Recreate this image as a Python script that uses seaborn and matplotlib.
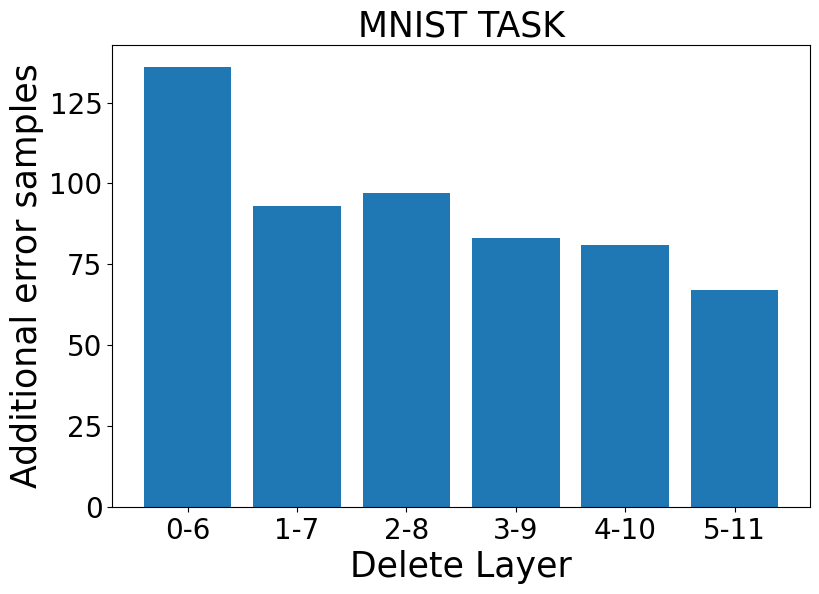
import matplotlib
matplotlib.use('Agg')
import matplotlib.pyplot as plt
import seaborn as sns
import pandas as pd

layers = ['0-6', '1-7', '2-8', '3-9', '4-10', '5-11']
errors = [136, 93, 97, 83, 81, 67]

data = pd.DataFrame({'layer': layers, 'errors': errors})

fig, ax = plt.subplots(figsize=(8.19, 5.94), dpi=100)
sns.barplot(data=data, x='layer', y='errors', color='#1f77b4', saturation=1,
            width=0.8, ax=ax)

# match matplotlib's default bar margins
ax.set_xlim(-0.69, 5.69)
ax.set_ylim(0, 142.8)
ax.set_yticks([0, 25, 50, 75, 100, 125])

ax.set_title('MNIST TASK', fontsize=25)
ax.set_xlabel('Delete Layer', fontsize=25)
ax.set_ylabel('Additional error samples', fontsize=25)
ax.tick_params(labelsize=20)

plt.subplots_adjust(left=0.137, right=0.989, top=0.9242, bottom=0.1465)
plt.savefig('out.png', dpi=100)
